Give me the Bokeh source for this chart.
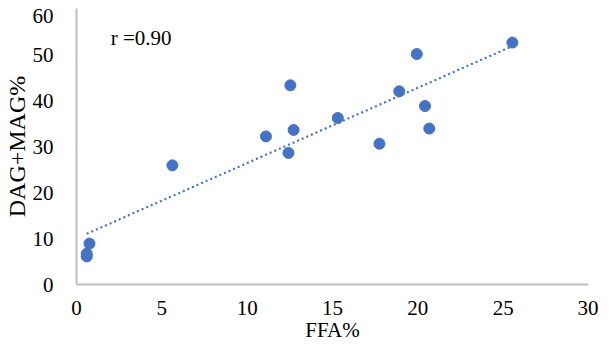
import numpy as np
from bokeh.plotting import figure
from bokeh.models import Range1d, Label, FixedTicker, Spacer
from bokeh.layouts import column
from bokeh.embed import file_html
from bokeh.resources import INLINE

ffa = [0.6, 0.6, 0.76, 5.62, 11.1, 12.42, 12.53, 12.72, 15.31, 17.75, 18.91, 19.94, 20.42, 20.67, 25.54]
dag_mag = [6.1, 6.7, 8.9, 25.9, 32.2, 28.6, 43.3, 33.6, 36.2, 30.6, 42.0, 50.1, 38.8, 33.9, 52.6]
x_ticks = [0, 5, 10, 15, 20, 25, 30]
y_ticks = [0, 10, 20, 30, 40, 50, 60]
r_label = "r =0.90"

FONT = "Liberation Serif"
BLUE = "#4472C4"
GREY = "#BFBFBF"

p = figure(width=598, height=336,
           output_backend="svg", toolbar_location=None,
           x_range=Range1d(0, 30), y_range=Range1d(0, 60),
           min_border_left=67, min_border_top=0, min_border_right=10,
           min_border_bottom=59)
p.outline_line_color = None
p.grid.visible = False

for ax in (p.xaxis[0], p.yaxis[0]):
    ax.axis_line_color = GREY
    ax.axis_line_width = 2
    ax.major_tick_line_color = None
    ax.minor_tick_line_color = None
    ax.major_label_text_font = FONT
    ax.major_label_text_font_size = "21px"
    ax.major_label_text_color = "#000000"
    ax.axis_label_text_font = FONT
    ax.axis_label_text_font_style = "normal"
    ax.axis_label_text_color = "#000000"

p.xaxis.axis_label_text_font_size = "21px"
p.yaxis.axis_label_text_font_size = "24px"
p.xaxis.ticker = FixedTicker(ticks=x_ticks)
p.yaxis.ticker = FixedTicker(ticks=y_ticks)
p.xaxis.axis_label = "FFA%"
p.yaxis.axis_label = "DAG+MAG%"
p.xaxis.major_label_standoff = 10
p.yaxis.major_label_standoff = 17
p.xaxis.axis_label_standoff = 0
p.yaxis.axis_label_standoff = 0

# linear trend line from the data
coef = np.polyfit(ffa, dag_mag, 1)
xs = [min(ffa), max(ffa)]
ys = [coef[0] * v + coef[1] for v in xs]
p.line(xs, ys, line_color=BLUE, line_width=2.2, line_dash="2 3")

p.scatter(ffa, dag_mag, size=11, fill_color=BLUE, line_color=BLUE)

p.add_layout(Label(x=2.0, y=53.5, text=r_label, text_font=FONT,
                   text_font_size="21px", text_baseline="middle",
                   text_color="#000000"))

layout = column(Spacer(height=8, width=598), p, spacing=0)
open("out.html", "w").write(file_html(layout, INLINE))
